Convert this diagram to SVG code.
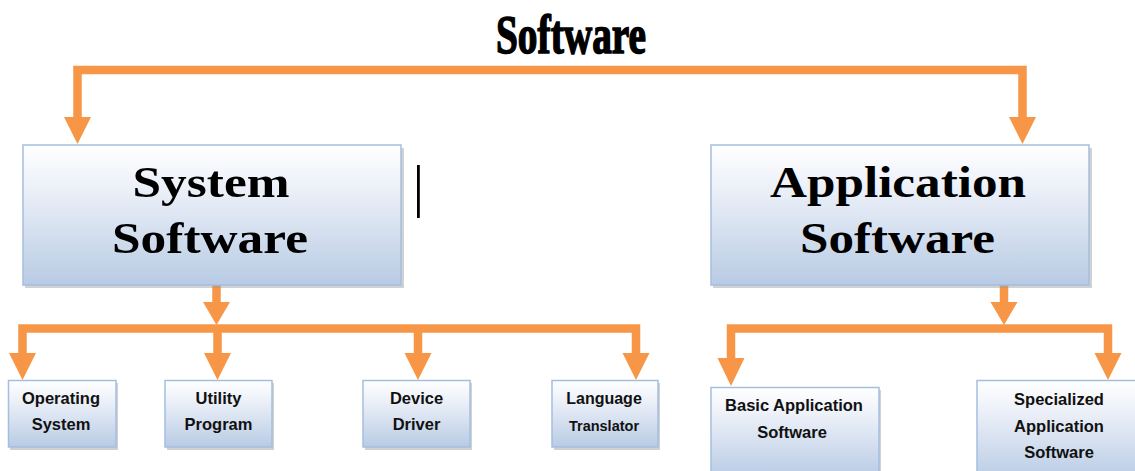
<svg xmlns="http://www.w3.org/2000/svg" width="1135" height="471" viewBox="0 0 1135 471">
  <defs>
    <linearGradient id="boxGrad" x1="0" y1="0" x2="0" y2="1">
      <stop offset="0" stop-color="#ffffff"/>
      <stop offset="0.35" stop-color="#e9eef7"/>
      <stop offset="1" stop-color="#b8cbe4"/>
    </linearGradient>
    <style>
      .box { fill: url(#boxGrad); stroke: #a5bedf; stroke-width: 1.5; }
      .shadow { fill: #9a9a9a; opacity: 0.45; }
      .conn { fill: none; stroke: #f79646; stroke-width: 8.5; stroke-linejoin: miter; }
      .head { fill: #f79646; }
      .big { font-family: "Liberation Serif", "DejaVu Serif", serif; font-weight: bold; font-size: 45px; fill: #000; text-anchor: middle; }
      .small { font-family: "Liberation Sans", Arial, sans-serif; font-weight: bold; font-size: 16.5px; fill: #111; text-anchor: middle; }
      .title { font-family: "Liberation Serif", "DejaVu Serif", serif; font-weight: bold; font-size: 55px; fill: #000; stroke: #000; stroke-width: 1.6; text-anchor: middle; }
    </style>
  </defs>

  <rect width="1135" height="471" fill="#ffffff"/>

  <g id="title">
    <text class="title" x="571" y="53" textLength="150" lengthAdjust="spacingAndGlyphs">Software</text>
  </g>

  <g id="connectors">
    <!-- top level -->
    <path class="conn" d="M77.5,119 V70 H1022.5 V119"/>
    <polygon class="head" points="64,117 91,117 77.5,144"/>
    <polygon class="head" points="1009,117 1036,117 1022.5,144"/>
    <!-- system software branch -->
    <path class="conn" d="M216.5,285 V304"/>
    <polygon class="head" points="203,302 230,302 216.5,325"/>
    <path class="conn" d="M22.5,355 V328.5 H636 V355"/>
    <path class="conn" d="M217.5,328.5 V355"/>
    <path class="conn" d="M418,328.5 V355"/>
    <polygon class="head" points="9,353 36,353 22.5,380"/>
    <polygon class="head" points="204,353 231,353 217.5,380"/>
    <polygon class="head" points="404.5,353 431.5,353 418,380"/>
    <polygon class="head" points="622.5,353 649.5,353 636,380"/>
    <!-- application software branch -->
    <path class="conn" d="M1004,285 V304"/>
    <polygon class="head" points="990.5,302 1017.5,302 1004,325"/>
    <path class="conn" d="M731,360 V328.5 H1108 V355"/>
    <polygon class="head" points="717.5,358 744.5,358 731,386"/>
    <polygon class="head" points="1094.5,353 1121.5,353 1108,380"/>
  </g>

  <g id="cursor">
    <rect x="417" y="165" width="2.8" height="53" fill="#000"/>
  </g>

  <g id="system-software">
    <rect class="shadow" x="25" y="148" width="379" height="140"/>
    <rect class="box" x="23" y="145" width="378" height="140"/>
    <text class="big" x="211" y="197" textLength="157" lengthAdjust="spacingAndGlyphs">System</text>
    <text class="big" x="210" y="253" textLength="196" lengthAdjust="spacingAndGlyphs">Software</text>
  </g>

  <g id="application-software">
    <rect class="shadow" x="713" y="148" width="379" height="140"/>
    <rect class="box" x="711" y="145" width="378" height="140"/>
    <text class="big" x="898" y="197" textLength="256" lengthAdjust="spacingAndGlyphs">Application</text>
    <text class="big" x="897.5" y="253" textLength="195" lengthAdjust="spacingAndGlyphs">Software</text>
  </g>

  <g id="operating-system">
    <rect class="shadow" x="10" y="383" width="108" height="67"/>
    <rect class="box" x="8.5" y="380.5" width="107.5" height="66.5"/>
    <text class="small" x="61" y="404">Operating</text>
    <text class="small" x="61" y="430">System</text>
  </g>

  <g id="utility-program">
    <rect class="shadow" x="167" y="383" width="107" height="67"/>
    <rect class="box" x="165" y="380.5" width="107" height="66.5"/>
    <text class="small" x="218.5" y="404">Utility</text>
    <text class="small" x="218.5" y="430">Program</text>
  </g>

  <g id="device-driver">
    <rect class="shadow" x="365" y="383" width="107" height="67"/>
    <rect class="box" x="363" y="380.5" width="107" height="66.5"/>
    <text class="small" x="416.5" y="404">Device</text>
    <text class="small" x="416.5" y="430">Driver</text>
  </g>

  <g id="language-translator">
    <rect class="shadow" x="554" y="383" width="106" height="67"/>
    <rect class="box" x="552" y="380.5" width="106" height="66.5"/>
    <text class="small" x="604" y="404" style="font-size:16px">Language</text>
    <text class="small" x="604" y="431" style="font-size:14.5px">Translator</text>
  </g>

  <g id="basic-application-software">
    <rect class="shadow" x="713" y="390" width="168" height="90"/>
    <rect class="box" x="711" y="387.5" width="168" height="90"/>
    <text class="small" x="794" y="411">Basic Application</text>
    <text class="small" x="792" y="438">Software</text>
  </g>

  <g id="specialized-application-software">
    <rect class="box" x="977" y="380.5" width="170" height="100"/>
    <text class="small" x="1059" y="405">Specialized</text>
    <text class="small" x="1059" y="432">Application</text>
    <text class="small" x="1059" y="458">Software</text>
  </g>
</svg>
